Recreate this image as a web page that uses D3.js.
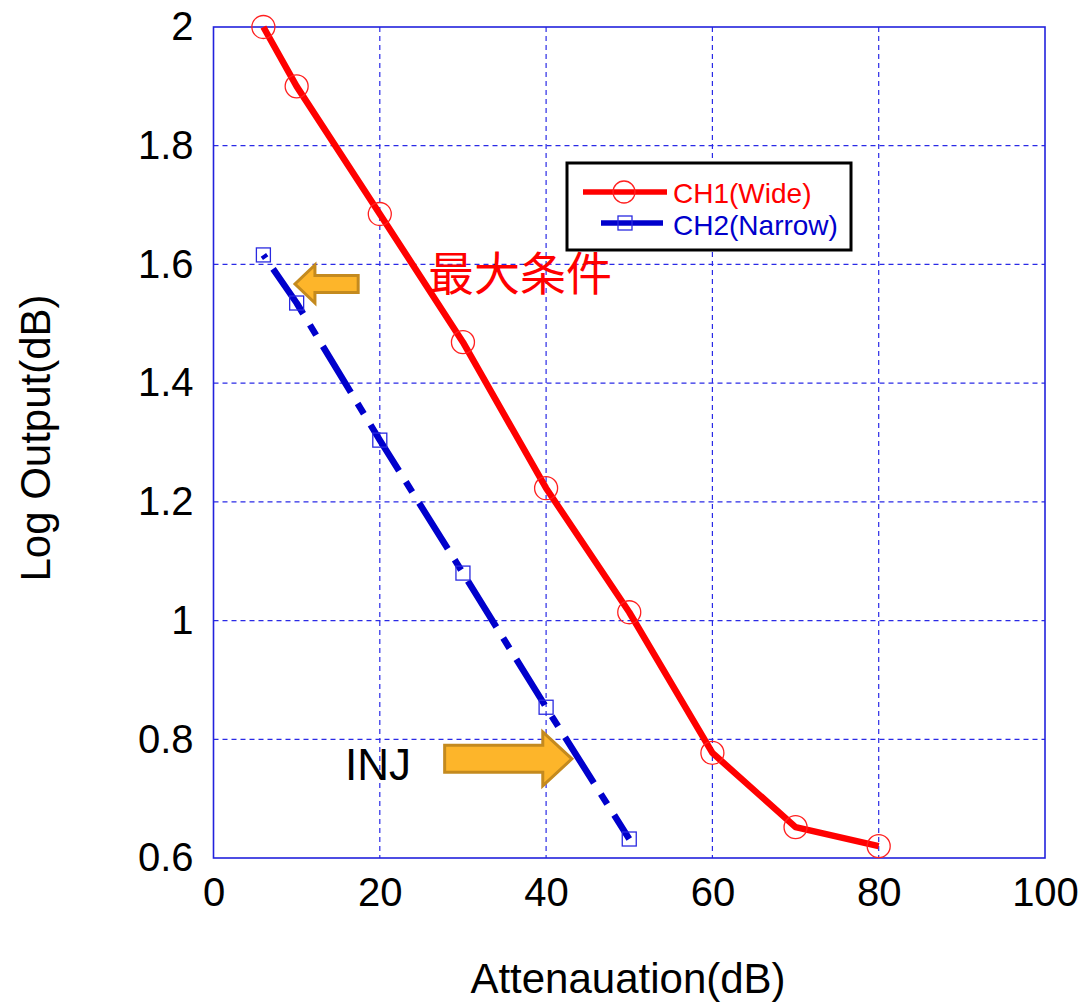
<!DOCTYPE html>
<html>
<head>
<meta charset="utf-8">
<script src="https://cdn.jsdelivr.net/npm/d3@7"></script>
<style>
  html, body { margin: 0; padding: 0; background: #fff; }
  svg { display: block; font-family: "Liberation Sans", Arial, sans-serif; }
</style>
</head>
<body>
<svg id="chart" width="1085" height="1002"></svg>
<script>
// Attenuation sweep, log detector output for the two channels
const ch1Atten = [6, 10, 20, 30, 40, 50, 60, 70, 80];
const ch1Output = [2.0, 1.9, 1.685, 1.469, 1.223, 1.014, 0.777, 0.652, 0.62];
const ch2Atten = [6, 10, 20, 30, 40, 50];
const ch2Output = [1.616, 1.535, 1.304, 1.08, 0.854, 0.632];

const xTicks = [0, 20, 40, 60, 80, 100];
const yTicks = [0.6, 0.8, 1.0, 1.2, 1.4, 1.6, 1.8, 2.0];
const seriesNames = ["CH1(Wide)", "CH2(Narrow)"];

const svg = d3.select("#chart");
const plot = { left: 213.5, right: 1045, top: 27, bottom: 858 };

const x = d3.scaleLinear().domain([0, 100]).range([plot.left, plot.right]);
const y = d3.scaleLinear().domain([0.6, 2.0]).range([plot.bottom, plot.top]);

const gridColor = "#2a2ae6";

// dashed grid
const grid = svg.append("g");
grid.selectAll("line.vx").data(xTicks.slice(1, -1)).join("line")
  .attr("x1", d => x(d)).attr("x2", d => x(d))
  .attr("y1", plot.top).attr("y2", plot.bottom)
  .attr("stroke", gridColor).attr("stroke-width", 1.2).attr("stroke-dasharray", "5,4");
grid.selectAll("line.hy").data(yTicks.slice(1, -1)).join("line")
  .attr("x1", plot.left).attr("x2", plot.right)
  .attr("y1", d => y(d)).attr("y2", d => y(d))
  .attr("stroke", gridColor).attr("stroke-width", 1.2).attr("stroke-dasharray", "5,4");

// frame
svg.append("rect")
  .attr("x", plot.left).attr("y", plot.top)
  .attr("width", plot.right - plot.left).attr("height", plot.bottom - plot.top)
  .attr("fill", "none").attr("stroke", "#2222dd").attr("stroke-width", 1.6);

// axes (labels only)
const xAxis = d3.axisBottom(x).tickValues(xTicks).tickSize(0).tickPadding(20).tickFormat(d3.format("d"));
const gx = svg.append("g").attr("transform", `translate(0,${plot.bottom})`).call(xAxis);
gx.select(".domain").remove();
gx.selectAll("text").attr("font-size", 40).attr("fill", "#000")
  .attr("font-family", "Liberation Sans, Arial, sans-serif");

const yAxis = d3.axisLeft(y).tickValues(yTicks).tickSize(0).tickPadding(20)
  .tickFormat(d => d3.format("~g")(d));
const gy = svg.append("g").attr("transform", `translate(${plot.left},0)`).call(yAxis);
gy.select(".domain").remove();
gy.selectAll("text").attr("font-size", 40).attr("fill", "#000")
  .attr("font-family", "Liberation Sans, Arial, sans-serif");

// axis titles
svg.append("text").attr("x", 628).attr("y", 993).attr("text-anchor", "middle")
  .attr("font-size", 42).attr("fill", "#000").text("Attenauation(dB)");
svg.append("text").attr("transform", "translate(50,438) rotate(-90)").attr("text-anchor", "middle")
  .attr("font-size", 42).attr("fill", "#000").text("Log Output(dB)");

const ch1 = ch1Atten.map((a, i) => [a, ch1Output[i]]);
const ch2 = ch2Atten.map((a, i) => [a, ch2Output[i]]);
const line = d3.line().x(d => x(d[0])).y(d => y(d[1]));

// CH2: blue dash-dot
svg.append("path").datum(ch2).attr("d", line)
  .attr("fill", "none").attr("stroke", "#0000cc").attr("stroke-width", 6.5)
  .attr("stroke-dasharray", "54,13,12,13").attr("stroke-dashoffset", 75)
  .attr("stroke-linejoin", "round");
svg.append("g").selectAll("rect").data(ch2).join("rect")
  .attr("x", d => x(d[0]) - 7).attr("y", d => y(d[1]) - 7)
  .attr("width", 14).attr("height", 14)
  .attr("fill", "none").attr("stroke", "#2a2ae0").attr("stroke-width", 1.3);

// CH1: solid red with open circles
svg.append("path").datum(ch1).attr("d", line)
  .attr("fill", "none").attr("stroke", "#ff0000").attr("stroke-width", 6.5)
  .attr("stroke-linejoin", "round");
svg.append("g").selectAll("circle").data(ch1).join("circle")
  .attr("cx", d => x(d[0])).attr("cy", d => y(d[1])).attr("r", 11.5)
  .attr("fill", "none").attr("stroke", "#ff2020").attr("stroke-width", 1.3);

// annotation arrows, placed in data units
function arrowPath(tailX, tipX, headX, cy, shaftHalf, headHalf) {
  const yc = y(cy);
  const pts = [
    [x(tailX), yc - shaftHalf], [x(headX), yc - shaftHalf], [x(headX), yc - headHalf],
    [x(tipX), yc], [x(headX), yc + headHalf], [x(headX), yc + shaftHalf], [x(tailX), yc + shaftHalf]
  ];
  return "M" + pts.map(p => p.join(",")).join("L") + "Z";
}
const arrowFill = "#fdb52a", arrowEdge = "#c48a1e";
svg.append("path").attr("d", arrowPath(17.4, 9.8, 12.2, 1.567, 8.5, 19))
  .attr("fill", arrowFill).attr("stroke", arrowEdge).attr("stroke-width", 3).attr("stroke-linejoin", "miter");
svg.append("path").attr("d", arrowPath(27.8, 43.1, 39.6, 0.767, 13.5, 27))
  .attr("fill", arrowFill).attr("stroke", arrowEdge).attr("stroke-width", 3).attr("stroke-linejoin", "miter");

svg.append("text").attr("x", 428).attr("y", 290)
  .attr("font-family", "Noto Sans CJK JP, Noto Sans CJK SC, sans-serif")
  .attr("font-size", 46).attr("fill", "#ff0000").text("最大条件");
svg.append("text").attr("x", 345).attr("y", 780)
  .attr("font-size", 44).attr("fill", "#000").text("INJ");

// legend
const lg = svg.append("g");
lg.append("rect").attr("x", 567).attr("y", 163).attr("width", 284).attr("height", 87)
  .attr("fill", "#fff").attr("stroke", "#000").attr("stroke-width", 3);
lg.append("line").attr("x1", 583).attr("x2", 667).attr("y1", 192).attr("y2", 192)
  .attr("stroke", "#ff0000").attr("stroke-width", 5.5);
lg.append("circle").attr("cx", 624).attr("cy", 192).attr("r", 11)
  .attr("fill", "none").attr("stroke", "#ff2020").attr("stroke-width", 1.3);
lg.append("line").attr("x1", 601).attr("x2", 663).attr("y1", 223).attr("y2", 223)
  .attr("stroke", "#0000cc").attr("stroke-width", 5.5);
lg.append("rect").attr("x", 618).attr("y", 216).attr("width", 14).attr("height", 14)
  .attr("fill", "none").attr("stroke", "#2a2ae0").attr("stroke-width", 1.3);
lg.append("text").attr("x", 673).attr("y", 203).attr("font-size", 28).attr("fill", "#ff0000").text(seriesNames[0]);
lg.append("text").attr("x", 673).attr("y", 235).attr("font-size", 28).attr("fill", "#0000cc").text(seriesNames[1]);
</script>
</body>
</html>
